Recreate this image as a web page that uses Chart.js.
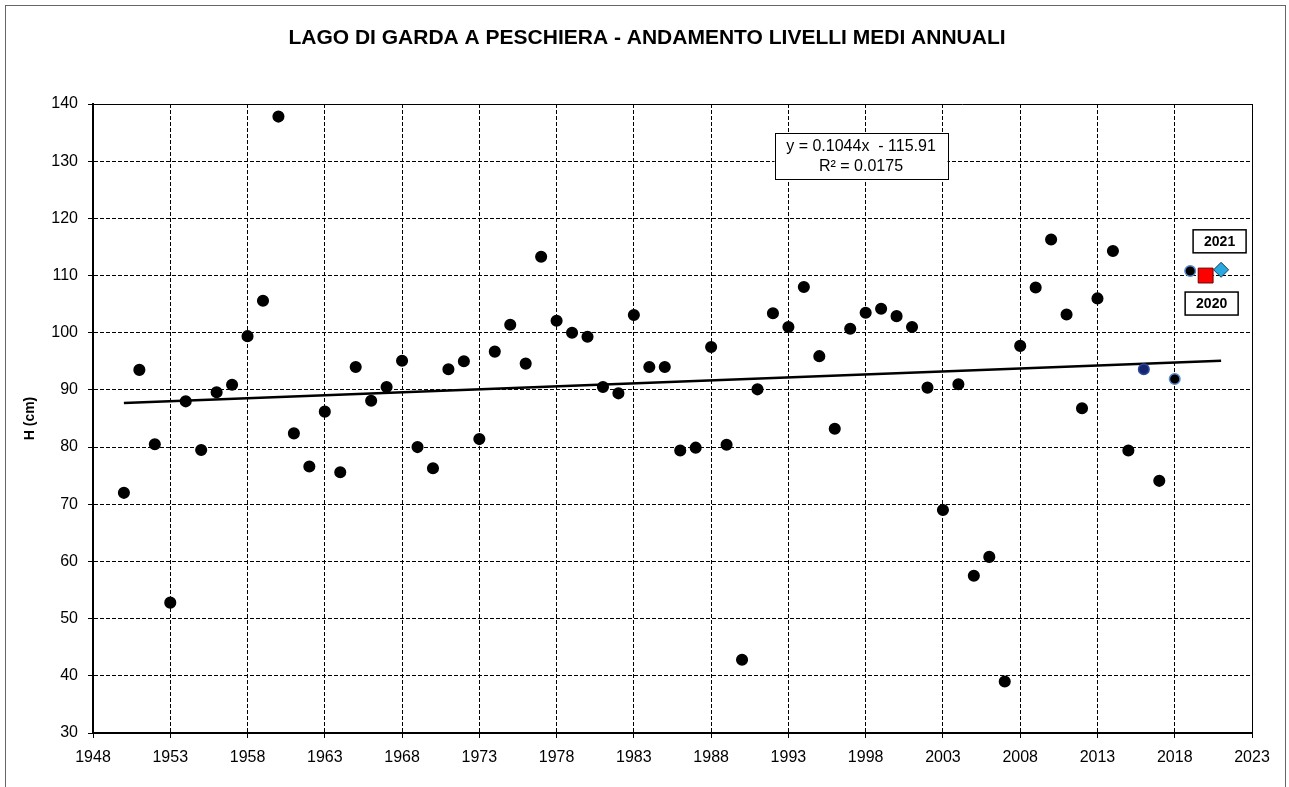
<!DOCTYPE html>
<html>
<head>
<meta charset="utf-8">
<script src="https://cdn.jsdelivr.net/npm/chart.js@4.4.1/dist/chart.umd.min.js"></script>
<style>
  html, body { margin: 0; padding: 0; background: #fff; }
  #wrap { width: 1289px; height: 787px; }
</style>
</head>
<body>
<div id="wrap"><canvas id="myChart" width="1289" height="787"></canvas></div>
<script>
// annual mean levels
const years = [1950, 1951, 1952, 1953, 1954, 1955, 1956, 1957, 1958, 1959,
               1960, 1961, 1962, 1963, 1964, 1965, 1966, 1967, 1968, 1969,
               1970, 1971, 1972, 1973, 1974, 1975, 1976, 1977, 1978, 1979,
               1980, 1981, 1982, 1983, 1984, 1985, 1986, 1987, 1988, 1989,
               1990, 1991, 1992, 1993, 1994, 1995, 1996, 1997, 1998, 1999,
               2000, 2001, 2002, 2003, 2004, 2005, 2006, 2007, 2008, 2009,
               2010, 2011, 2012, 2013, 2014, 2015, 2016, 2017, 2018, 2019];
const levels = [72.0, 93.5, 80.5, 52.8, 88.0, 79.5, 89.6, 90.9, 99.4, 105.6,
                137.8, 82.4, 76.6, 86.2, 75.6, 94.0, 88.1, 90.5, 95.1, 80.0,
                76.3, 93.6, 95.0, 81.4, 96.7, 101.4, 94.6, 113.3, 102.1, 100.0,
                99.3, 90.5, 89.4, 103.1, 94.0, 94.0, 79.4, 79.9, 97.5, 80.4,
                42.8, 90.1, 103.4, 101.0, 108.0, 95.9, 83.2, 100.7, 103.5, 104.2,
                102.9, 101.0, 90.4, 69.0, 91.0, 57.5, 60.8, 39.0, 97.7, 107.9,
                116.3, 103.2, 86.8, 106.0, 114.3, 79.4, 93.6, 74.1, 91.9, 110.8];

const year2020 = [2020];
const level2020 = [110.0];
const year2021 = [2021];
const level2021 = [111.0];

// trend line end points
const trendYears = [1950, 2021];
const trendLevels = [87.7, 95.1];

const xTicks = [1948, 1953, 1958, 1963, 1968, 1973, 1978, 1983, 1988, 1993,
                1998, 2003, 2008, 2013, 2018, 2023];
const equationLines = ['y = 0.1044x  - 115.91', 'R\u00B2 = 0.0175'];
const titleText = 'LAGO DI GARDA A PESCHIERA - ANDAMENTO LIVELLI MEDI ANNUALI';

const FONT = '"Liberation Sans", Arial, sans-serif';

const toPoints = (xs, ys) => xs.map((x, i) => ({ x: x, y: ys[i] }));

function pointFill(ctx) {
  const yr = ctx.raw && ctx.raw.x;
  if (yr === 2016) return '#17246e';
  return '#000';
}
function pointEdge(ctx) {
  const yr = ctx.raw && ctx.raw.x;
  if (yr === 2016) return '#2c4a9a';
  if (yr === 2018 || yr === 2019) return '#5b8bd0';
  return '#000';
}

function labelBox(ctx, cx, cy, text) {
  const w = 53, h = 23;
  ctx.fillStyle = '#fff';
  ctx.fillRect(cx - w / 2, cy - h / 2, w, h);
  ctx.strokeStyle = '#000';
  ctx.lineWidth = 1.5;
  ctx.strokeRect(cx - w / 2, cy - h / 2, w, h);
  ctx.fillStyle = '#000';
  ctx.font = 'bold 14px ' + FONT;
  ctx.textAlign = 'center';
  ctx.textBaseline = 'middle';
  ctx.fillText(text, cx, cy + 1);
}

const decorations = {
  id: 'decorations',
  beforeDraw(chart) {
    const ctx = chart.ctx;
    ctx.save();
    ctx.fillStyle = '#fff';
    ctx.fillRect(0, 0, chart.width, chart.height);
    ctx.strokeStyle = '#666';
    ctx.lineWidth = 1;
    ctx.strokeRect(5.5, 5.5, 1280, 800);
    ctx.restore();
  },
  beforeDatasetsDraw(chart) {
    const { ctx, chartArea: a } = chart;
    const l = Math.round(a.left), r = Math.round(a.right);
    const t = Math.round(a.top), b = Math.round(a.bottom);
    ctx.save();
    ctx.setLineDash([]);
    ctx.strokeStyle = '#000';
    ctx.lineWidth = 1;
    ctx.beginPath();
    ctx.moveTo(l, t + 0.5); ctx.lineTo(r + 0.5, t + 0.5);
    ctx.moveTo(r + 0.5, t); ctx.lineTo(r + 0.5, b);
    ctx.stroke();
    ctx.lineWidth = 2;
    ctx.beginPath();
    ctx.moveTo(l, t); ctx.lineTo(l, b + 1);
    ctx.moveTo(l - 1, b); ctx.lineTo(r + 1, b);
    ctx.stroke();
    ctx.restore();
  },
  afterDraw(chart) {
    const ctx = chart.ctx;
    const xs = chart.scales.x, ys = chart.scales.y;
    ctx.save();

    // title
    ctx.fillStyle = '#000';
    ctx.font = 'bold 21px ' + FONT;
    ctx.textAlign = 'center';
    ctx.textBaseline = 'middle';
    ctx.fillText(titleText, 647, 38);

    // equation box
    const ex = xs.getPixelForValue(1997.7), ey = ys.getPixelForValue(130.9);
    const bw = 173, bh = 46;
    ctx.fillStyle = '#fff';
    ctx.fillRect(ex - bw / 2, ey - bh / 2, bw, bh);
    ctx.strokeStyle = '#000';
    ctx.lineWidth = 1;
    ctx.strokeRect(Math.round(ex - bw / 2) + 0.5, Math.round(ey - bh / 2) + 0.5, bw, bh);
    ctx.fillStyle = '#000';
    ctx.font = '16px ' + FONT;
    ctx.fillText(equationLines[0], ex, ey - 9);
    ctx.fillText(equationLines[1], ex, ey + 11);

    // year labels
    const p21x = xs.getPixelForValue(year2021[0]), p21y = ys.getPixelForValue(level2021[0]);
    const p20x = xs.getPixelForValue(year2020[0]), p20y = ys.getPixelForValue(level2020[0]);
    labelBox(ctx, p21x - 1.5, p21y - 28.5, '2021');
    labelBox(ctx, p20x + 6, p20y + 28, '2020');

    ctx.restore();
  }
};

const ctx = document.getElementById('myChart');
const myChart = new Chart(ctx, {
  type: 'scatter',
  data: {
    datasets: [
      {
        type: 'line',
        label: 'trend',
        data: toPoints(trendYears, trendLevels),
        borderColor: '#000',
        borderWidth: 2.5,
        pointRadius: 0,
        fill: false,
        order: 2
      },
      {
        label: 'H',
        data: toPoints(years, levels),
        pointRadius: 5.3,
        pointBackgroundColor: pointFill,
        pointBorderColor: pointEdge,
        pointBorderWidth: 1.5,
        order: 1
      },
      {
        label: '2020',
        data: toPoints(year2020, level2020),
        pointStyle: 'rect',
        pointRadius: 10.5,
        pointBackgroundColor: '#ff0000',
        pointBorderColor: '#6b0000',
        pointBorderWidth: 1,
        order: 0
      },
      {
        label: '2021',
        data: toPoints(year2021, level2021),
        pointStyle: 'rectRot',
        pointRadius: 7.5,
        pointBackgroundColor: '#2aa9e0',
        pointBorderColor: '#1a3a5a',
        pointBorderWidth: 1,
        order: 0
      }
    ]
  },
  options: {
    responsive: false,
    animation: false,
    layout: { padding: { left: 12, right: 37, top: 104, bottom: 0 } },
    plugins: {
      legend: { display: false },
      tooltip: { enabled: false },
      title: { display: false }
    },
    scales: {
      x: {
        type: 'linear',
        min: 1948,
        max: 2023,
        afterBuildTicks: (scale) => { scale.ticks = xTicks.map(v => ({ value: v })); },
        afterFit: (scale) => { scale.height = 54; },
        ticks: {
          color: '#000',
          font: { family: FONT, size: 16 },
          padding: 10,
          maxRotation: 0,
          autoSkip: false,
          callback: (v) => String(v)
        },
        grid: {
          color: '#000',
          lineWidth: 1,
          tickLength: 5,
          tickColor: '#000',
          tickBorderDash: []
        },
        border: { display: true, color: '#000', width: 2, dash: [4, 2] }
      },
      y: {
        min: 30,
        max: 140,
        afterFit: (scale) => { scale.width = 81; },
        ticks: {
          stepSize: 10,
          color: '#000',
          font: { family: FONT, size: 16 },
          padding: 10
        },
        grid: {
          color: '#000',
          lineWidth: 1,
          tickLength: 5,
          tickColor: '#000',
          tickBorderDash: []
        },
        border: { display: true, color: '#000', width: 2, dash: [4, 2] },
        title: {
          display: true,
          text: 'H (cm)',
          color: '#000',
          font: { family: FONT, size: 14, weight: 'bold' },
          padding: { top: 10, bottom: 0 }
        }
      }
    }
  },
  plugins: [decorations]
});
</script>
</body>
</html>
